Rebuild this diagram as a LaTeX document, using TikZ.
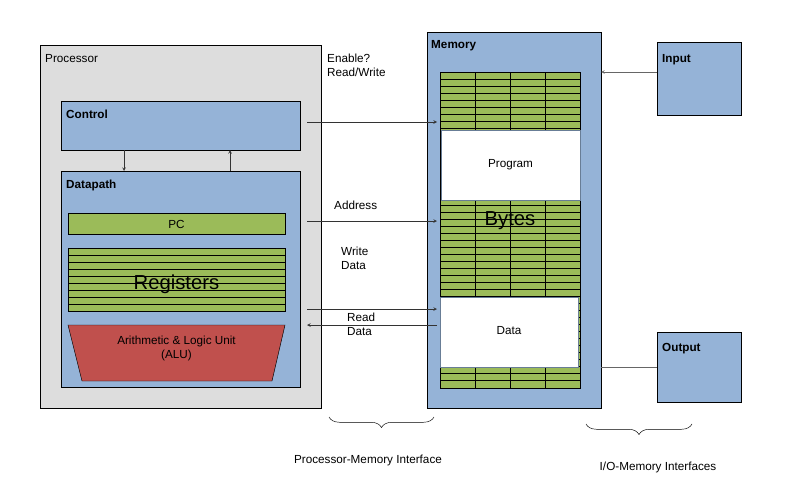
\documentclass[tikz,border=0pt]{standalone}
\usepackage{fontspec}
\setmainfont{Liberation Sans}
\usetikzlibrary{decorations.pathreplacing,calc,positioning}
\definecolor{blk}{HTML}{95B3D7}
\definecolor{grn}{HTML}{9BBB59}
\definecolor{alured}{HTML}{C0504D}
\definecolor{procgray}{HTML}{DDDDDD}
\tikzset{
  box/.style={draw, fill=blk},
  reg/.style={draw, fill=grn},
  lbl/.style={font=\bfseries, anchor=north west, inner sep=0pt},
  wire/.style={->, >=stealth, draw=black!80, thin},
  txt/.style={anchor=north west, inner sep=0pt, align=left, text height=1.6ex}
}
\begin{document}
\begin{tikzpicture}[x=0.03cm, y=-0.03cm]
\useasboundingbox (0,0) rectangle (802,503);

% processor
\draw[fill=procgray] (40,45) rectangle (321,408);
\node[txt] (proc) at (45,52) {Processor};
\draw[box] (61,101) rectangle (300,150);
\node[lbl] (ctl) at (66,110) {Control};
\draw[box] (61,171) rectangle (300,387);
\node[lbl] (dp) at (66,180) {Datapath};

\coordinate (c1) at (124,150); \coordinate (d1) at (124,171);
\coordinate (c2) at (230,150); \coordinate (d2) at (230,171);
\draw[wire] (c1) -- (d1);
\draw[wire] (d2) -- (c2);

\draw[reg] (68,213) rectangle (285,234);
\node (pc) at (176.5,224) {PC};
\draw[reg] (68,248) rectangle (285,311);
\foreach \y in {255,262,...,305} \draw (68,\y) -- (285,\y);
\node[font=\LARGE] (regs) at (176.5,284) {Registers};
\draw[fill=alured] (68,325) -- (285,325) -- (272,381) -- (82,381) -- cycle;
\node[align=center, inner sep=0pt] (alu) at (176.5,348) {Arithmetic \& Logic Unit\\(ALU)};

% memory
\draw[box] (427,32) rectangle (601,408);
\node[lbl] (mem) at (431,40) {Memory};
\draw[reg] (440,72) rectangle (580,388);
\foreach \y in {79,86,...,385} \draw (440,\y) -- (580,\y);
\foreach \x in {475,510,545} \draw (\x,72) -- (\x,388);
\draw[draw=blk!70!black, fill=white] (441,130) rectangle (580,200);
\node (prog) at (510.5,165) {Program};
\draw[draw=blk!70!black, fill=white] (440,297) rectangle (578,367);
\node (data) at (509,331) {Data};
\node[font=\LARGE] (bytes) at (510,221) {Bytes};

% I/O
\draw[box] (657,42) rectangle (741,115);
\node[lbl] (inp) at (662,54) {Input};
\draw[box] (657,332) rectangle (741,402);
\node[lbl] (outp) at (662,343) {Output};
\coordinate (ia) at (657,72); \coordinate (ib) at (601,72);
\draw[wire, draw=black!60] (ia) -- (ib);
\coordinate (oa) at (601,367); \coordinate (ob) at (657,367);
\draw[draw=black!60] (oa) -- (ob);

% processor-memory wires
\coordinate (p1) at (307,122); \coordinate (m1) at (437,122);
\coordinate (p2) at (307,221); \coordinate (m2) at (437,221);
\coordinate (p3) at (307,309); \coordinate (m3) at (437,309);
\coordinate (p4) at (307,325); \coordinate (m4) at (437,325);
\draw[wire] (p1) -- (m1);
\draw[wire] (p2) -- (m2);
\draw[wire] (p3) -- (m3);
\draw[wire] (m4) -- (p4);
\node[txt] (en) at (327,66) {Enable?\\Read/Write};
\node[txt] (addr) at (334,199) {Address};
\node[txt] (wd) at (341,259) {Write\\Data};
\node[txt] (rd) at (347,325) {Read\\Data};

% interfaces
\coordinate (b1a) at (329,417); \coordinate (b1b) at (434,417);
\draw[decorate, decoration={brace, mirror, amplitude=9pt}] (b1a) -- (b1b);
\node (pmi) at (368,460) {Processor-Memory Interface};
\coordinate (b2a) at (586,424); \coordinate (b2b) at (692,424);
\draw[decorate, decoration={brace, mirror, amplitude=9pt}] (b2a) -- (b2b);
\node (iomi) at (658,467) {I/O-Memory Interfaces};
\end{tikzpicture}
\end{document}
